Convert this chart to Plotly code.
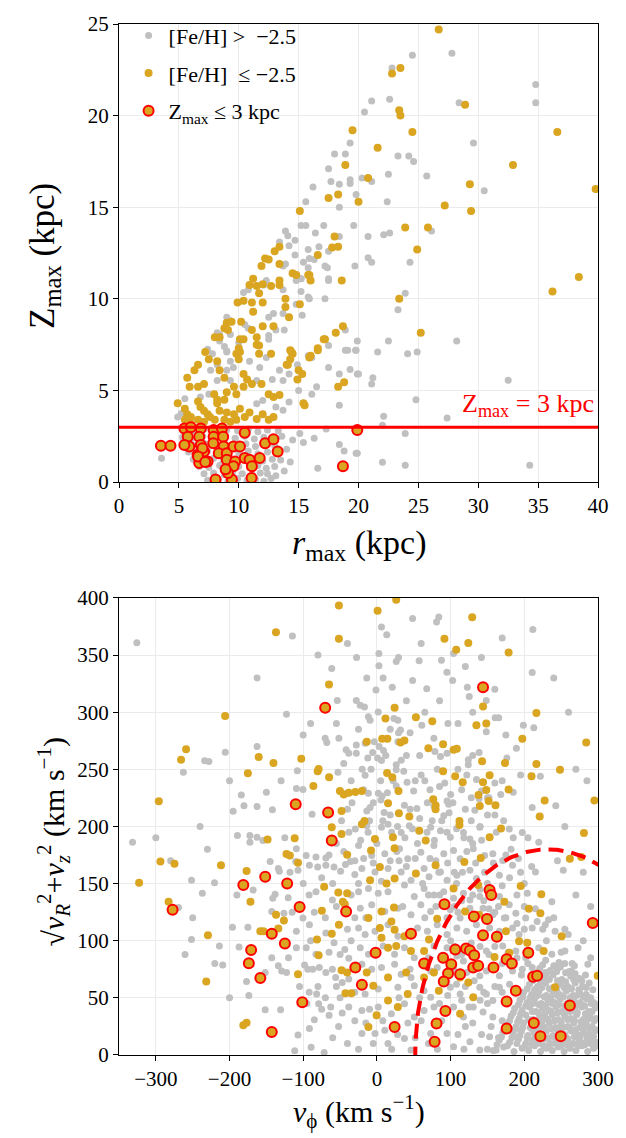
import numpy as np
import plotly.graph_objects as go

# ---------------- DATA ----------------
# Top panel: (r_max [kpc], Z_max [kpc])
top_gray = [
    (24.5,23.3),(27.8,23.4),(22.8,22.6),(34.8,21.7),(34.8,20.7),(28.4,20.7),(21.1,20.8),(22.6,20.9),(20.5,20.2),
    (19.3,18.5),(18.0,17.9),(18.9,17.9),(23.3,17.8),(24.2,17.8),(24.6,17.5),(29.6,18.5),(17.5,17.1),(22.5,16.8),
    (25.7,16.7),(17.7,16.4),(18.4,16.25),(19.3,16.5),(19.3,16.3),(21.1,16.4),(16.2,16.1),(30.5,15.9),(15.6,15.3),
    (19.8,15.7),(22.4,15.3),(18.4,15.0),(15.2,14.0),(15.6,14.0),(17.1,14.0),(16.4,13.6),(19.6,14.0),(20.8,13.4),
    (22.1,13.5),(22.6,13.6),(26.1,13.7),(18.4,13.4),(15.8,12.7),(16.7,12.85),(17.5,12.6),(15.4,12.0),(15.9,12.2),
    (16.3,12.15),(15.8,11.7),(17.4,11.7),(19.7,11.8),(20.8,12.25),(21.1,12.0),(24.3,12.0),(17.5,11.1),(17.5,11.0),
    (15.2,11.1),(15.2,10.4),(15.9,10.0),(17.2,10.0),(23.9,10.3),(23.3,9.4),(15.3,9.1),(18.9,8.3),(19.9,7.7),
    (22.5,7.7),(28.2,7.7),(17.5,7.45),(19.1,7.2),(19.8,7.2),(21.6,7.1),(24.1,7.0),(24.9,7.1),(20.3,16.6),
    (13.9,13.7),(14.1,13.45),(14.7,13.2),(13.4,13.1),(14.2,12.9),(14.7,12.4),(13.9,11.9),(13.7,11.8),(17.2,11.8),
    (15.2,11.1),(14.8,11.0),(12.3,11.0),(12.1,10.75),(10.4,10.35),(10.8,10.5),(13.7,10.5),(15.8,10.1),(14.8,9.7),
    (12.9,9.2),(12.5,9.0),(13.7,9.2),(9.0,9.0),(9.3,8.8),(10.5,8.6),(10.8,8.4),(13.1,8.3),(13.8,8.3),(8.2,8.15),
    (8.4,8.05),(9.3,8.05),(12.5,8.0),(12.5,7.8),(8.4,7.7),(8.8,7.4),(10.0,7.6),(7.4,7.25),(7.8,7.0),(9.0,7.1),
    (15.8,6.9),(16.1,6.8),
    (9.0,7.16),(9.3,6.6),(8.2,6.4),(7.65,6.1),(9.0,6.1),(9.55,6.26),(10.9,6.6),(11.75,6.26),(12.3,6.8),(13.4,6.1),
    (13.7,5.54),(14.2,5.9),(14.9,6.4),(12.8,5.6),(11.5,5.54),(9.3,5.54),(8.2,5.54),(7.5,4.8),(5.5,4.55),(5.2,3.74),
    (4.9,3.56),(6.8,4.64),(11.5,4.28),(12.0,4.46),(13.1,4.1),(13.7,3.92),(14.2,4.37),(15.0,5.0),(16.1,4.8),
    (20.0,5.9),(21.2,5.7),(21.1,5.35),(32.5,5.56),(24.8,4.5),(22.1,3.6),(22.0,3.1),(27.4,3.5),(23.9,2.65),
    (19.9,1.57),(22.0,1.08),(23.9,0.92),(34.3,0.92),(15.1,2.65),(16.3,2.4),(15.4,2.16),(17.3,2.9),(18.4,2.05),
    (18.8,1.7),(19.8,1.57),(16.6,0.76),(18.9,7.2),(19.75,7.2),(19.9,5.9),(19.3,6.15),(18.4,5.9),(17.5,6.26),
    (16.5,5.2),(18.4,4.2),(3.55,1.3),
    (7.4,0.1),(8.3,0.15),(9.1,0.05),(9.9,0.2),(10.7,0.1),(11.4,0.15),(12.1,0.05),(12.7,0.2),
    (7.1,0.45),(7.9,0.5),(8.8,0.4),(9.5,0.55),(10.3,0.45),(11.1,0.4),(11.8,0.5),(12.4,0.45),(13.1,0.35),
    (6.7,0.85),(7.5,0.8),(8.4,0.9),(9.2,0.75),(10.0,0.85),(10.9,0.8),(11.6,0.9),(12.3,0.75),(13.0,0.85),
    (6.2,1.25),(7.0,1.2),(7.9,1.3),(8.7,1.15),(9.6,1.25),(10.4,1.2),(11.2,1.3),(12.0,1.15),(12.8,1.25),(13.5,1.2),
    (5.8,1.65),(6.6,1.6),(7.4,1.7),(8.3,1.55),(9.1,1.65),(10.0,1.6),(10.8,1.7),(11.6,1.55),(12.4,1.65),(13.2,1.6),
    (5.5,2.05),(6.3,2.0),(7.2,2.1),(8.1,1.95),(8.9,2.05),(9.8,2.0),(10.6,2.1),(11.4,1.95),(12.2,2.05),(13.0,2.0),
    (5.3,2.45),(6.1,2.4),(7.0,2.5),(7.9,2.35),(8.8,2.45),(9.7,2.4),(10.5,2.5),(11.3,2.35),(12.1,2.45),(12.9,2.4),
    (13.6,2.5),(5.4,2.85),(6.2,2.8),(7.1,2.9),(8.0,2.75),(9.0,2.85),(9.9,2.8),(10.8,2.9),(11.6,2.75),(12.4,2.85),
    (13.3,2.8),(14.0,1.8),(14.3,1.1),(13.8,0.6),(14.5,2.3),
]
top_gold = [
    (26.7,24.7),(23.5,22.6),(22.8,22.3),(23.4,20.3),(23.5,20.0),(28.9,20.6),(19.5,19.2),(24.5,19.1),(36.6,19.1),
    (21.6,18.25),(18.9,17.3),(32.9,17.3),(20.8,16.6),(29.3,16.25),(39.8,16.0),(17.5,15.5),(18.3,15.7),(20.0,15.3),
    (15.1,14.8),(27.2,15.1),(29.4,14.8),(23.9,13.9),(25.8,13.9),(18.0,13.4),(17.8,12.8),(18.3,12.85),(16.6,12.4),
    (24.9,12.7),(15.9,11.3),(16.0,11.0),(18.6,11.0),(15.1,9.7),(23.4,10.0),(38.4,11.2),(36.2,10.4),(25.2,8.15),
    (18.7,8.5),(18.1,8.15),(17.2,7.8),(16.6,7.3),(16.0,6.9),
    (13.4,12.85),(13.0,12.6),(12.2,12.2),(11.9,11.8),(12.5,12.15),(13.4,11.9),(14.5,11.4),(14.8,11.3),(15.8,11.3),
    (11.2,11.1),(10.9,10.75),(11.5,10.7),(12.0,10.8),(12.7,10.7),(13.4,11.0),(13.4,10.75),(11.7,10.3),(13.9,10.0),
    (13.9,9.55),(9.9,9.8),(10.4,9.9),(11.1,9.8),(12.0,9.8),(11.2,9.3),(14.2,9.0),(9.0,8.7),(9.4,8.75),(8.8,8.4),
    (10.2,8.75),(9.1,8.3),(11.1,8.3),(12.0,8.5),(12.9,8.5),(8.0,7.9),(8.4,7.9),(10.1,7.8),(10.4,7.8),(11.5,7.9),
    (11.5,7.5),(11.7,7.45),(10.0,7.3),(10.1,7.1),(7.2,7.1),(14.3,7.2),(14.5,7.0),(11.7,7.0),
    (7.5,6.7),(8.2,6.6),(6.6,6.4),(6.3,6.1),(5.7,5.7),(9.8,7.0),(10.0,6.7),(12.7,7.0),(14.3,6.7),(14.1,6.4),
    (14.9,5.6),(15.0,6.1),(15.3,5.9),(8.4,6.1),(8.8,5.7),(7.1,5.35),(6.6,5.2),(5.9,5.2),(10.4,5.9),(10.7,5.6),
    (10.4,5.2),(11.1,5.35),(11.9,5.35),(12.5,4.8),(13.4,4.75),(12.9,4.65),(15.4,4.3),(9.0,4.9),(9.6,5.2),(9.8,4.8),
    (7.95,4.8),(8.2,4.5),(8.8,4.5),(4.9,4.3),(5.5,4.0),(5.7,3.7),(6.0,3.55),(6.6,4.4),(6.8,4.1),(7.1,3.9),(7.4,3.7),
    (7.6,3.55),(8.2,4.3),(8.4,3.9),(9.0,3.8),(9.6,3.7),(10.1,4.0),(10.5,3.55),(10.9,3.8),(11.5,3.45),(12.0,3.7),
    (12.5,3.4),(12.9,3.55),(6.6,3.4),(7.1,3.3),(8.0,3.4),(8.8,3.4),(9.3,3.3),(9.8,3.4),(5.5,3.4),(6.0,3.2),
    (18.3,5.2),(18.8,5.45),(15.5,4.2),(17.1,7.8),(16.6,7.2),(15.9,6.8),(14.4,7.1),(14.0,6.4),
]
top_red = [
    (3.5,1.98),(4.3,1.98),(5.46,2.93),(6.0,3.0),(6.83,2.93),(5.74,2.48),(6.7,2.48),(5.87,1.94),(6.83,2.03),
    (7.9,2.84),(8.6,2.93),(7.9,2.48),(8.7,2.48),(7.87,2.12),(8.74,1.94),(7.1,1.67),(6.56,1.49),(6.7,1.04),
    (7.4,1.13),(8.33,1.58),(9.0,1.58),(9.56,1.94),(10.1,1.94),(10.5,2.7),(9.0,1.22),(9.7,1.13),(9.56,0.86),
    (10.5,1.31),(10.9,1.22),(11.75,1.31),(11.1,0.86),(12.2,2.12),(12.9,2.34),(13.25,1.67),(8.06,0.14),(9.43,0.14),
    (11.07,0.23),(6.97,1.85),(5.46,2.03),(19.9,2.85),(18.7,0.86),(9.1,0.5),(8.9,0.7),(6.6,1.4),(7.2,1.1),
]

# Bottom panel: (v_phi [km/s], sqrt(vR^2+vz^2) [km/s])
bot_gray = [
    (-325.8,360.8),(-114.7,366.6),(48.4,381.9),(84,383.3),(80.9,379),(6.2,374.6),(13.3,367.7),(211.6,372.3),
    (141.8,347.8),(210.7,334.8),(-27.6,347.8),(2.7,351.3),(2.7,340.6),(29.3,347.8),(26.2,344.4),(57.3,344.9),
    (87.6,345.5),(104,351.3),(-61.3,338.3),(-162.7,330),(-13.8,330),(8.4,330),(48.4,327.6),(20.9,321.8),
    (67.6,320.4),(102.7,327.6),(122.7,321.8),(125.3,313.8),(148.4,310.3),(-53.8,310.3),(-28,310.3),(-22.7,306),
    (-16.9,304.5),(-1.3,319.5),(-122.7,298.2),(-11.6,295.9),(-9.3,293),(1.8,300.2),(23.1,294.4),(28.4,293),
    (60.9,288.6),(96.4,290.1),(160.4,295),(165.3,295),(148.4,282.9),(198.7,288.6),(212.9,286.3),(-70.2,277.1),
    (-68,273.4),(-51.6,277.1),(-41.8,267),(-38.2,264.1),(-28,271.3),(-28,264.1),(-16,272.8),(-3.6,274.2),
    (28.4,274.2),(32,284.3),(29.3,282),(8.9,266.4),(-5.8,264.7),(0.9,259.8),(6.2,257.8),(-12.4,259.8),
    (77.3,277.1),(78.7,265.6),(86.2,261.2),(95.1,264.1),(124,258.3),(124,254),(138.7,264.7),(176.4,259.8),
    (189.3,268.4),(-162.7,269.9),(-205.8,265),(-233.8,257.5),(-228,256.9),(-262.7,247.4),(-108,248.8),
    (-109.3,233.2),(-100.4,232.4),(-184,227.5),(-195.1,213.3),(-180.4,218),(-162.7,217.4),(-141.8,214.5),
    (-88,210.7),(-52.9,247.4),(-16,244.8),(-40.4,229),(-33.8,220.8),(-11.6,229),(1.8,229),(7.1,226.6),
    (-4.9,220.8),(-9.3,216.5),(-13.8,213.6),(26.2,254),(26.2,249.7),(36.4,248.2),(40.9,238.7),(49.8,231),
    (26.2,235.3),(14.2,229.5),(5.3,223.1),(9.8,212.2),(37.3,218.5),(54.2,215.6),(68.4,220.8),(77.3,217.9),
    (97.3,219.4),(103.1,220.8),(90.7,209.3),(132.9,214.2),(138.7,224.3),(141.8,231),(152,225.2),(210.7,216.5),
    (221.8,243.9),(242.7,218),(95.1,222.3),(135.1,241),
    (-331.6,186.2),(-251.6,153),(-220.4,150.7),(-236.9,141.5),(-269.3,129),(-251.6,101),(-260.4,88),
    (-213.8,95.3),(-209.3,78.8),(-196,111.7),(-175.1,111.7),(-187.1,94.4),(-176.9,64.4),(-173.8,52),
    (-151.6,39.6),(-130.7,39.6),(-189.3,192),(-172.4,192),(-162.7,190.5),(-172.4,186.2),(-154.7,187.6),
    (-144.9,169.4),(-132.4,160.8),(-141.3,137.1),(-138.2,140.6),(-142.7,125.6),(-168,144.3),(-120.4,137.7),
    (-110.2,169.4),(-107.1,161.6),(-109.3,180.4),(-96,174.6),(-82.7,173.2),(-69.3,172.3),(-91.6,166),
    (-80.4,164.5),(-69.3,166),(-58.2,164.5),(-49.3,160.8),(-42.7,166.6),(-36,169.4),(-82.7,142.9),(-60.4,135.7),
    (-133.8,163.1),(-109.3,108.3),(-100.4,119.8),(-91.6,114),(-109.3,93.8),(-96,93.8),(-98.2,78.8),(-93.8,75.1),
    (-82.7,88.1),(-87.1,75.1),(-78.2,76.5),(-69.3,72.2),(-60.4,75.1),(-56,67.9),(-47.1,63.5),(-38.2,66.4),
    (-69.3,106.8),(-58.2,98.2),(-43.6,92.4),(-38.2,84.6),(-64.9,34.7),(-84.9,30.9),(-91.6,23.1),(-107.1,17.4),
    (-111.6,3.8),(-89.3,6.7),(-71.6,2.1),(-81.8,53.4),(-79.1,44.8),(-62.7,41.9),(-47.1,36.7),(-38.2,41.9),
    (-129.3,73.6),(-133.8,78),(-122.7,72.2),(-151.6,72.2),(-142.7,85.2),(-126.2,124.1),
    (-29.3,197.7),(-13.7,200.6),(6.2,199.2),(15.1,202),(32.9,194.8),(44,200.6),(72.9,199.2),(86.2,196.3),
    (99.6,190.5),(117.4,194.8),(126.2,189.1),(139.6,199.2),(179.6,197.7),(197.3,194.8),(219.6,186.2),
    (-24.9,183.3),(-7.1,174.6),(10.7,176.1),(30.7,180.4),(41.8,171.8),(59.6,177.5),(77.4,183.3),(90.7,176.1),
    (104,179),(112.9,171.8),(130.7,180.4),(146.2,174.6),(157.3,176.1),(170.7,170.3),(215.1,160.2),(252.9,161.7),
    (-20.4,163.1),(-2.6,160.2),(15.1,163.1),(32.9,160.2),(46.3,153),(64,163.1),(70.7,155.9),(86.2,160.2),
    (95.1,153),(108.5,157.3),(126.2,161.7),(135.1,154.4),(166.2,157.3),(184,166),
    (-24.9,142.9),(-11.5,145.8),(1.8,141.5),(15.1,142.9),(37.4,148.7),(50.7,138.6),(64,145.8),(77.4,140),
    (90.7,142.9),(104,137.1),(117.4,141.5),(126.2,135.7),(139.6,138.6),(166.2,138.6),(179.6,131.4),(204,141.5),
    (237.4,134.2),(-22.6,128.5),(-7.1,131.4),(10.7,125.6),(28.5,128.5),(46.3,122.7),(59.6,131.4),(72.9,125.6),
    (99.6,127),(112.9,119.8),(126.2,128.5),(144,128.5),(157.3,122.7),(172.9,119.8),(188.5,124.1),(201.8,119.8),
    (217.4,116.9),(232.9,118.4),(-24.9,111.1),(-16,105.4),(-2.6,108.3),(15.1,114),(28.5,103.9),(55.1,111.1),
    (68.5,108.3),(81.8,114),(95.1,105.4),(108.5,111.1),(121.8,108.3),(135.1,114),(152.9,111.1),(166.2,108.3),
    (184,111.1),(192.9,105.4),(210.7,111.1),(228.5,114),(241.8,108.3),(259.6,105.4),
    (-22.6,93.8),(-11.5,88.1),(8.5,95.3),(24,88.1),(37.4,93.8),(50.7,85.2),(77.4,95.3),(95.1,93.8),(108.5,86.6),
    (117.4,82.3),(148.5,91),(170.7,95.3),(188.5,91),(201.8,85.2),(219.6,93.8),(237.4,88.1),(255.1,91),
    (272.9,93.8),(286.2,79.4),(-20.4,79.4),(-7.1,75.1),(6.2,76.5),(24,79.4),(32.9,70.7),(46.3,67.9),(72.9,73.6),
    (81.8,76.5),(104,75.1),(121.8,72.2),(139.6,69.3),(148.5,73.6),(166.2,69.3),(184,73.6),(197.3,75.1),
    (210.7,76.5),(228.5,72.2),(246.2,76.5),(264,73.6),(-16,53.4),(1.8,57.8),(28.5,59.2),(50.7,60.6),(64,56.3),
    (72.9,50.5),(99.6,59.2),(112.9,53.4),(139.6,59.2),(148.5,53.4),(157.3,47.7),(166.2,59.2),(-20.4,39),
    (1.8,41.9),(19.6,36.1),(37.4,44.8),(50.7,33.2),(64,39),(77.4,41.9),(104,41.9),(117.4,33.2),(130.7,41.9),
    (144,37.6),(157.3,33.2),(-20.4,18.8),(-2.6,18.8),(10.7,21.7),(37.4,14.5),(46.3,4.4),(72.9,18.8),(95.1,18.8),
    (104,7.3),(126.2,11.6),(139.6,4.4),(152.9,15.9),(161.8,4.4),
    (-20,250),(5,240),(40,262),(60,245),(85,235),(110,250),(130,262),(150,225),(170,240),(-40,215),(-10,205),
    (20,195),(45,215),(75,205),(95,195),(120,215),(140,200),(160,210),(185,190),(-55,185),(-30,170),(0,185),
    (30,170),(55,185),(80,170),(105,160),(130,185),(150,150),(175,175),(195,160),(-60,150),(-35,140),(-15,120),
    (35,130),(65,120),(85,140),(110,125),(140,145),(160,125),(200,130),(225,110),(250,90),(-80,60),(-50,50),
    (-30,30),(-10,40),(15,10),(30,50),(60,30),(85,45),(120,25),(145,55),(170,30),(100,100),(70,85),(45,75),
    (-40,110),(-70,120),
    (-55,290),(-45,255),(-35,240),(-25,285),(-18,232),(-8,250),(3,270),(12,262),(18,285),(22,240),(33,258),
    (45,282),(52,240),(58,262),(-48,205),(-38,195),(-22,188),(-12,195),(8,205),(18,210),(28,200),(38,190),
    (48,198),(58,207),(-45,178),(-30,158),(-18,172),(-5,168),(6,152),(18,170),(27,178),(40,165),(52,172),(62,150),
    (65,240),(72,232),(82,250),(92,238),(100,228),(115,232),(122,245),(128,225),(160,238),(168,228),(185,230),
    (195,245),(68,195),(78,188),(88,205),(98,212),(108,198),(118,190),(128,205),(142,188),(150,210),(162,195),
    (172,205),(182,180),(192,172),(205,190),(72,172),(84,160),(96,168),(108,150),(116,160),(122,178),(134,168),
    (146,160),(158,168),(170,148),(180,155),(190,140),(200,150),(210,165),(70,140),(80,130),(95,120),(105,130),
    (115,135),(130,140),(145,135),(152,128),(165,130),(175,120),(190,115),(200,110),(215,128),(230,100),(240,120),
    (255,110),(265,80),(280,100),(290,85),
    (105,95),(115,88),(128,98),(140,95),(152,88),(160,95),(170,80),(178,90),(190,85),(196,70),(205,80),(180,62),
    (170,55),(160,60),(150,45),(140,48),(125,42),(115,48),(108,62),(120,60),(132,65),
    (-95,45),(-75,40),(-60,15),(-52,25),(-40,10),(-25,5),(-15,28),(-5,10),(8,30),(20,5),(28,18),(42,28),(52,15),
    (58,50),(70,10),(82,5),(88,30),(96,52),(110,18),(118,5),(130,28),(142,18),(150,5),(165,15),(155,25),
    (-125,190),(-118,160),(-100,150),(-92,140),(-85,125),(-75,155),(-65,175),(-55,130),(-30,120),(-25,150),
    (-35,100),(-50,88),(-65,90),(-90,100),(-115,125),(-120,85),(-105,60),(-92,55),(-70,50),(-55,60),(-30,55),
    (65,300),(85,310),(110,290),(130,300),(160,320),(175,280),(120,340),(95,335),(60,360),(-40,360),(-80,350),
    (40,310),(-90,290),(-100,280),(-130,240),(-150,230),(-200,240),(-240,200),(-300,190),(-280,170),(-250,120),
    (-220,80),(-200,50),(-190,140),(-230,180),(170,365),(240,330),(260,300),(270,250),(255,200),(280,160),
    (290,130),(270,140),(245,170),(285,240),
    # dense disc clump
    (158,4),(172,7),(186,3),(197,6),(206,4),(214,8),(222,3),(230,6),(238,4),(246,7),(254,3),(262,6),(270,4),
    (278,8),(286,3),(294,6),(166,13),(180,11),(192,14),(202,10),(211,13),(219,11),(227,14),(235,10),(243,13),
    (251,11),(259,14),(267,10),(275,13),(283,11),(291,14),(298,11),(171,20),(185,18),(196,21),(205,17),(213,20),
    (221,18),(230,21),(239,17),(247,20),(255,18),(264,21),(272,17),(280,20),(288,18),(296,21),(177,27),(189,25),
    (199,28),(208,24),(217,27),(225,25),(234,28),(242,24),(250,27),(259,25),(267,28),(275,24),(284,27),(292,25),
    (182,34),(193,32),(202,35),(212,31),(221,34),(229,32),(238,35),(246,31),(255,34),(263,32),(271,35),(280,31),
    (289,34),(297,32),(187,41),(197,39),(207,42),(216,38),(225,41),(234,39),(243,42),(251,38),(260,41),(269,39),
    (278,42),(287,38),(296,41),(194,48),(204,46),(214,49),(223,45),(232,48),(241,46),(249,49),(258,45),(267,48),
    (276,46),(285,49),(294,46),(199,55),(210,53),(220,56),(230,52),(239,55),(248,53),(257,56),(266,52),(275,55),
    (284,53),(207,62),(218,60),(229,63),(239,59),(249,62),(259,60),(269,63),(279,60),(214,69),(227,67),(239,70),
    (251,66),(263,69),(275,67),(221,76),(235,74),(249,77),(261,73),(229,83),(247,81),
    (163,9),(177,8),(190,10),(201,8),(210,9),(218,10),(226,8),(234,9),(242,10),(250,8),(258,9),(266,10),(274,8),
    (282,9),(290,10),(298,8),(169,16),(183,15),(194,17),(204,15),(215,16),(224,17),(233,15),(241,16),(249,17),
    (257,15),(268,16),(276,17),(285,15),(294,16),(174,23),(187,22),(198,24),(210,23),(219,22),(228,24),(237,23),
    (245,22),(253,24),(262,23),(270,22),(279,24),(288,23),(297,22),(180,30),(191,29),(206,31),(215,30),(224,29),
    (232,31),(241,30),(250,29),(259,31),(268,30),(277,29),(286,31),(295,30),(185,37),(195,36),(211,38),(219,37),
    (228,36),(236,38),(245,37),(254,36),(262,38),(272,37),(283,36),(292,38),(192,44),(202,43),(212,45),(220,44),
    (229,43),(238,45),(247,44),(255,43),(264,45),(273,44),(282,43),(291,45),(299,44),(198,51),(208,50),(218,52),
    (227,51),(236,50),(245,52),(253,51),(262,50),(271,52),(280,51),(290,50),(204,58),(214,57),(224,59),(234,58),
    (244,57),(254,59),(264,58),(274,57),(284,59),(293,57),(211,65),(222,64),(234,66),(245,65),(256,64),(267,66),
    (278,65),(288,63),(217,72),(230,71),(244,73),(256,72),(269,71),(283,70),(225,79),(240,78),(255,80),(268,78),
]
bot_gold = [
    (-51.6,393.4),(26.2,398.3),(0.9,388.8),(-137,370),(-51.6,364.3),(129.3,383),(91.6,364.3),(124,360.5),
    (107.6,354.7),(178.7,352.1),(-65,324.1),(24,303.9),(144,305),(-206,296.7),(11.6,294.4),(52.9,295.6),
    (75.1,292.1),(135,288.6),(148.4,290.1),(216.4,299.3),(-259,267.6),(-265.8,258.3),(-13.8,274.2),(7.1,276.8),
    (14.2,276.8),(32,273.4),(37.3,275.1),(69.8,268.4),(89.8,271.9),(104,267),(108.4,267.9),(197.3,276.8),
    (284,273.4),(-160.4,260.7),(-140.4,255.5),(-102.7,259.2),(-175.1,246.5),(-80.4,248.2),(-79.1,250.3),
    (-64.9,243.1),(-86.2,235.3),(13.8,246.8),(20.9,243.1),(89.8,248.2),(106.2,243.9),(116.4,238.7),(142.7,257),
    (173.8,255.5),(152.9,244.8),(144,238.7),(148.4,231.8),(137.8,227.5),(178.7,232.4),(209.8,243.9),
    (216.4,254.6),(248.4,249.7),(227.6,222.8),(295.1,222.8),(220.9,208.7),(-296,222),(-50.2,231),(-45,228),
    (-38.2,229.5),(-29.3,230.1),(-20.4,231),(29.3,231),(15.1,220.2),(29.8,211.6),(44,208.7),(76.4,223.7),
    (79.6,218.5),(79.6,215),(139.6,217.9),(160.9,218.5),(151.6,222.3),(-48,213.6),(-16.9,204.7),(112,204.7),
    (-293.8,169.4),(-274.7,167.4),(-322.7,150.7),(-211.6,166),(-176.9,161.1),(-148.4,188.5),(-111.6,189.6),
    (-122.7,175.8),(-118.2,174.6),(-107.1,168.3),(-61.3,199.2),(-48,193.4),(-40.4,175.2),(-282.7,134.2),
    (-171.6,134.2),(-71.6,147.2),(-52.4,142.3),(-40.4,141.5),(-46.2,134.2),(-43.6,131.9),(-74.7,126.2),
    (-136.9,122.7),(-126.2,117.8),(-133.8,110.6),(-158.2,108.3),(-153.8,108.3),(-51.6,114),(-61.3,106),
    (-81.3,101),(-79.1,87.2),(-229.3,104.8),(-107.1,70.7),(-48,74.2),(-40.4,72.2),(-42.7,54),(-34.7,54),
    (-231.6,64.4),(-181.3,26),(-176.9,28.3),
    (-20.4,202),(-2.7,189),(21.8,190.5),(57.4,196.3),(66.2,187.6),(112,201.2),(152.9,190.5),(168.4,198.3),
    (280.9,194.3),(-8,179),(4,164.5),(24,181),(52.9,158.8),(79.6,166),(118.7,168.9),(140.9,172.3),(-9.3,153),
    (13,150.1),(24,154.4),(104,145.8),(137.4,148.7),(261.8,171.7),(277.3,173.2),(195.1,147.8),(223.1,140.6),
    (6.2,125.6),(-11.5,119.8),(23.1,129),(19.6,116.9),(81.8,119.2),(119.6,125.6),(138.7,122.7),(172.9,134.2),
    (206.2,127.9),(221.8,124.1),(175.1,108.3),(192.9,99.6),(204,98.2),(4,111.1),(6.2,102.5),(24,109.7),
    (37.3,103.9),(15.1,93.8),(26.2,95.3),(46.2,90.9),(64,90.9),(70.7,101),(159.6,85.8),(179.6,89.5),(250.7,104),
    (226.2,90.9),(-13.8,72.2),(15.1,67.9),(39.6,72.2),(64,67.9),(77.3,72.2),(112.9,67.9),(124,63.5),(41.8,53.4),
    (-4.9,60.7),(15.1,47.7),(84,56.3),(130.7,50.5),(241.8,59.2),(299.6,69.3),(112.9,36.1),(-0.4,34.7),
    (28.4,41.9),(-11.5,24.6),
]
bot_red = [
    (-70.2,303.9),(144,321.8),(-110.2,219.4),(-66.2,212.2),(-277.3,127),(-181.3,148.7),(-151.6,155.9),
    (-121.8,150.1),(-61.3,187.6),(-104.9,129.6),(-41.8,125.6),(-142.7,106.2),(-124.9,97.6),(-170.7,91.8),
    (-173.8,80.3),(-158.2,67.3),(-101.3,46.2),(-142.7,20.2),(-29.3,76.5),(152.9,144.3),(155.1,140),
    (91.6,131.9),(131.6,121.2),(149.4,118.9),(46.2,106),(144,104.8),(162.7,103.4),(-1.8,89.5),(106.3,92.4),
    (120.9,93.3),(126.2,91.5),(132,87.2),(89.8,85.2),(100.9,79.4),(96.5,71.3),(90.7,64.4),(112.9,70.7),
    (130.7,76.5),(137.4,78),(64,80),(158.2,76.5),(176,83.7),(183.1,80),(205.4,89.5),(212,68.4),(217.4,69.3),
    (188.5,56.3),(176,46.8),(261.8,43.3),(292.9,115.5),(-20.4,61.5),(24,24.6),(92.9,38.4),(80.9,27.5),
    (78.3,11.6),(176,23.1),(212.9,28),(221.8,16.5),(249.4,16.5),
]

zmax_cut = 3.0            # kpc
v_lsr = 232.0             # km/s, centre of Toomre circle
v_halo_cut = 180.0        # km/s, radius of Toomre circle

top_xticks = [0, 5, 10, 15, 20, 25, 30, 35, 40]
top_yticks = [0, 5, 10, 15, 20, 25]
bot_xticks = [-300, -200, -100, 0, 100, 200, 300]
bot_yticks = [0, 50, 100, 150, 200, 250, 300, 350, 400]

# ---------------- STYLE ----------------
GRAY = "#c0c0c0"
GOLD = "#daa520"
RED = "#ff0000"
FONT = "Liberation Serif"

def xs(p):
    return [a for a, _ in p]

def ys(p):
    return [b for _, b in p]

fig = go.Figure()

# top panel
fig.add_trace(go.Scatter(x=xs(top_gray), y=ys(top_gray), mode="markers", xaxis="x", yaxis="y",
                         marker=dict(color=GRAY, size=7), name="[Fe/H] >\u00a0\u00a0\u22122.5",
                         legendgroup="a", showlegend=True))
fig.add_trace(go.Scatter(x=xs(top_gold), y=ys(top_gold), mode="markers", xaxis="x", yaxis="y",
                         marker=dict(color=GOLD, size=8), name="[Fe/H]\u00a0 \u2264 \u22122.5",
                         legendgroup="b", showlegend=True))
fig.add_trace(go.Scatter(x=xs(top_red), y=ys(top_red), mode="markers", xaxis="x", yaxis="y",
                         marker=dict(color=GOLD, size=10, line=dict(color=RED, width=2)),
                         name="Z<sub>max</sub> \u2264 3 kpc", legendgroup="c", showlegend=True))

# bottom panel
fig.add_trace(go.Scatter(x=xs(bot_gray), y=ys(bot_gray), mode="markers", xaxis="x2", yaxis="y2",
                         marker=dict(color=GRAY, size=7), showlegend=False))
fig.add_trace(go.Scatter(x=xs(bot_gold), y=ys(bot_gold), mode="markers", xaxis="x2", yaxis="y2",
                         marker=dict(color=GOLD, size=8), showlegend=False))
fig.add_trace(go.Scatter(x=xs(bot_red), y=ys(bot_red), mode="markers", xaxis="x2", yaxis="y2",
                         marker=dict(color=GOLD, size=10, line=dict(color=RED, width=2)), showlegend=False))

theta = np.linspace(0, np.pi, 300)
fig.add_trace(go.Scatter(x=v_lsr + v_halo_cut * np.cos(theta), y=v_halo_cut * np.sin(theta),
                         mode="lines", xaxis="x2", yaxis="y2",
                         line=dict(color=RED, width=4, dash="15px,8px"), showlegend=False))

axis_common = dict(showline=True, linecolor="black", linewidth=1, mirror=True, ticks="outside",
                   ticklen=5, tickcolor="black", showgrid=True, gridcolor="#ebebeb", gridwidth=1,
                   zeroline=False, tickfont=dict(family=FONT, size=21, color="black"))

top_dom = [(1055 - 476) / 1042, 1.0]
bot_dom = [0.0, (1055 - 593) / 1042]

def title_ann(text, x, y, size, angle=0):
    return dict(text=text, x=x, y=y, xref="paper", yref="paper", xanchor="center", yanchor="middle",
                textangle=angle, showarrow=False, font=dict(family=FONT, size=size, color="black"))

fig.update_layout(
    width=626, height=1138,
    margin=dict(l=119, r=19, t=13, b=83),
    paper_bgcolor="white", plot_bgcolor="white",
    font=dict(family=FONT, color="black"),
    xaxis=dict(axis_common, range=[0, 40], tickvals=top_xticks, anchor="y"),
    yaxis=dict(axis_common, range=[0, 25], tickvals=top_yticks, domain=top_dom, anchor="x"),
    xaxis2=dict(axis_common, range=[-350, 300], tickvals=bot_xticks,
                ticktext=[str(v).replace("-", "\u2212") for v in bot_xticks], anchor="y2"),
    yaxis2=dict(axis_common, range=[0, 400], tickvals=bot_yticks, domain=bot_dom, anchor="x2"),
    legend=dict(x=0.02, y=1.009, xanchor="left", yanchor="top", bgcolor="rgba(0,0,0,0)",
                font=dict(family=FONT, size=22, color="black"), tracegroupgap=6),
    shapes=[dict(type="line", xref="x domain", yref="y", x0=0, x1=1, y0=zmax_cut, y1=zmax_cut,
                 line=dict(color=RED, width=3), layer="above")],
    annotations=[
        dict(text="Z<sub>max</sub> = 3 kpc", x=39.8, y=zmax_cut + 0.2, xref="x", yref="y",
             xanchor="right", yanchor="bottom", showarrow=False,
             font=dict(family=FONT, size=26, color=RED)),
        title_ann("Z<sub>max</sub> (kpc)", (43 - 119) / 488, (1055 - 247) / 1042, 35, -90),
        title_ann("<i>r</i><sub>max</sub> (kpc)", (364 - 119) / 488, (1055 - 540) / 1042, 34),
        title_ann("\u221a<i>v</i><sub><i>R</i></sub><sup>2</sup>+<i>v</i><sub><i>z</i></sub><sup>2</sup> (km s<sup>\u22121</sup>)",
                  (52 - 119) / 488, (1055 - 840) / 1042, 30, -90),
        title_ann("<i>v</i><sub>\u03d5</sub> (km s<sup>\u22121</sup>)", (364 - 119) / 488, (1055 - 1112) / 1042, 30),
    ],
)

fig.write_html("out.html")
